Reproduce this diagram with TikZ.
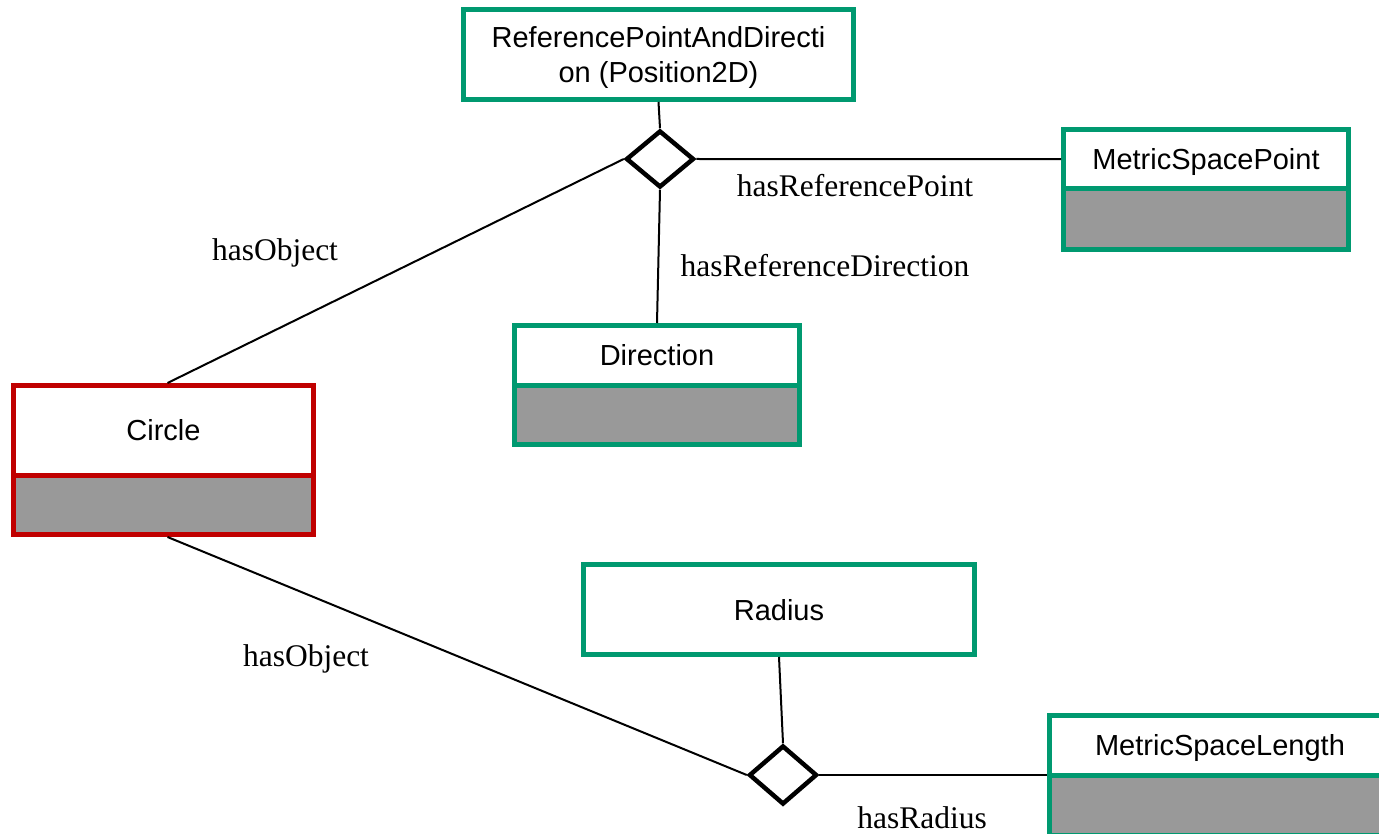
\documentclass[tikz,border=0pt]{standalone}
\usepackage{fontspec}
\setmainfont{Liberation Serif}
\newfontfamily\arialf{Liberation Sans}
\usetikzlibrary{shapes.geometric}
\definecolor{umlgreen}{RGB}{0,153,112}
\definecolor{umlred}{RGB}{192,0,0}
\definecolor{umlgray}{RGB}{153,153,153}
\begin{document}
\begin{tikzpicture}[x=1pt,y=-1pt,
  basecls/.style={draw=umlgreen, line width=5pt, rectangle, inner sep=0pt, fill=white,
    font=\arialf\fontsize{29}{35}\selectfont},
  cls/.style={basecls, text height=21pt, text depth=0pt},
  clsred/.style={cls, draw=umlred},
  attr/.style={fill=umlgray},
  rel/.style={diamond, draw=black, line width=4.5pt, fill=white, inner sep=0pt,
    minimum width=68pt, minimum height=57pt},
  conn/.style={draw=black, line width=2pt},
  lbl/.style={font=\fontsize{31.5}{36}\selectfont, anchor=base, inner sep=0pt}]
\useasboundingbox (0,0) rectangle (1379,834);
\fill[white] (0,0) rectangle (1379,834);

% classes
\node[basecls, align=center, text depth=0pt, minimum width=390pt, minimum height=89.5pt] (rpad) at (658.5,54.75) {ReferencePointAndDirecti\\on (Position2D)};

\node[cls, attr, minimum width=285pt, minimum height=60.5pt] (mspA) at (1206,219.25) {};
\node[cls, minimum width=285pt, minimum height=59.5pt] (msp) at (1206,159.25) {MetricSpacePoint};

\node[clsred, attr, minimum width=300pt, minimum height=59.5pt] (circA) at (163.5,504.75) {};
\node[clsred, minimum width=300pt, minimum height=89.5pt] (circ) at (163.5,430.25) {Circle};

\node[cls, attr, minimum width=285pt, minimum height=59.5pt] (dirA) at (657,414.75) {};
\node[cls, minimum width=285pt, minimum height=59.5pt] (dir) at (657,355.25) {Direction};

\node[cls, minimum width=391pt, minimum height=90pt] (rad) at (779,609.5) {Radius};

\node[cls, attr, minimum width=341pt, minimum height=60.5pt] (mslA) at (1220,805) {};
\node[cls, minimum width=341pt, minimum height=59.5pt] (msl) at (1220,745.25) {MetricSpaceLength};

% relations
\node[rel] (d1) at (660,159) {};
\node[rel, minimum height=59pt] (d2) at (783,775) {};

% connectors
\draw[conn] (rpad.south) -- (d1.north);
\draw[conn] (d1.east) -- (msp.west);
\draw[conn] (d1.south) -- (dir.north);
\draw[conn] (d1.west) -- ([xshift=4pt]circ.north);
\draw[conn] ([xshift=4pt]circA.south) -- (d2.west);
\draw[conn] (rad.south) -- (d2.north);
\draw[conn] (d2.east) -- (d2.east -| msl.west);

% labels
\node[lbl] (l1) at (855,197) {hasReferencePoint};
\node[lbl] (l2) at (275,261) {hasObject};
\node[lbl] (l3) at (825,277) {hasReferenceDirection};
\node[lbl] (l4) at (306,666) {hasObject};
\node[lbl] (l5) at (922,828) {hasRadius};
\end{tikzpicture}
\end{document}
